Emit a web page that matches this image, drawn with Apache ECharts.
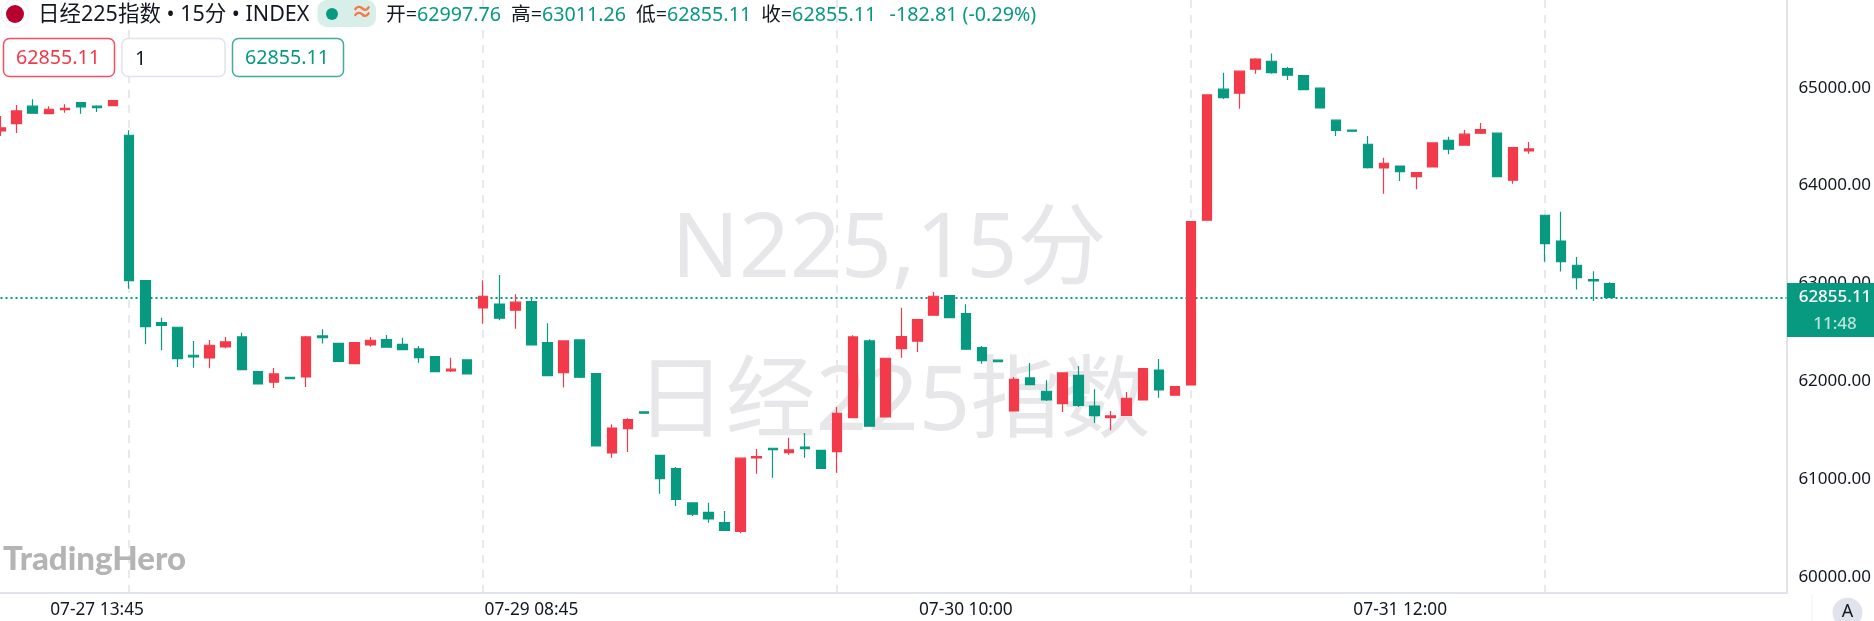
<!DOCTYPE html>
<html><head><meta charset="utf-8">
<style>html,body{margin:0;padding:0;background:#fff}#c{width:1874px;height:621px}</style>
<script src="https://cdn.jsdelivr.net/npm/echarts@6/dist/echarts.min.js"></script>
</head><body><div id="c"></div>
<script>
const opens=[64558,64633,64811,64735,64776,64848,64811,64817,64514,63028,62598,62551,62265,62237,62350,62452,62097,61989,62040,62043,62462,62387,62179,62370,62424,62377,62329,62250,62104,62217,62748,62789,62725,62813,62394,62087,62421,62077,61266,61514,61685,61242,61105,60755,60659,60553,60465,61215,61314,61269,61327,61293,61279,61627,62411,61634,62332,62408,62674,62874,62690,62342,62214,61695,62033,61897,61770,62060,61746,61627,61651,61808,62114,61856,61961,63645,64985,64944,65189,65271,65195,65124,64995,64668,64568,64422,64180,64200,64091,64190,64463,64412,64535,64535,64054,64354,63696,63433,63185,63038,62997.76];
const closes=[64589,64763,64739,64780,64790,64804,64796,64868,63028,62557,62571,62230,62247,62367,62401,62118,61971,62074,62026,62452,62445,62203,62394,62418,62347,62322,62240,62097,62122,62074,62868,62643,62807,62370,62056,62411,62040,61338,61521,61606,61672,61003,60792,60639,60591,60475,61212,61228,61300,61297,61310,61109,61672,62452,61539,62234,62455,62629,62868,62649,62326,62210,62199,62019,61964,61808,62084,61753,61647,61644,61825,62128,61910,61944,63631,64926,64899,65169,65294,65154,65128,64981,64793,64565,64555,64183,64228,64142,64132,64436,64371,64525,64572,64091,64387,64374,63406,63222,63058,63024,62855.11];
const lows=[64507,64538,64735,64735,64745,64735,64752,64817,62946,62377,62316,62145,62138,62132,62336,62118,61965,61930,62026,61941,62384,62203,62179,62353,62347,62322,62189,62094,62094,62074,62588,62623,62537,62370,62056,61934,62033,61338,61218,61276,61672,60850,60724,60622,60553,60475,60445,61054,61013,61248,61218,61109,61064,61627,61539,61634,62240,62299,62674,62649,62326,62179,62199,61695,61964,61797,61685,61736,61573,61498,61651,61801,61831,61856,61961,63645,64885,64786,65144,65144,65080,64981,64793,64507,64555,64173,63917,64047,63962,64190,64320,64412,64528,64091,64019,64326,63222,63120,62936,62820,62855.11];
const highs=[64712,64824,64882,64811,64831,64848,64821,64868,64565,63028,62649,62551,62411,62421,62452,62496,62097,62135,62040,62462,62531,62387,62394,62452,62472,62445,62360,62250,62240,62217,63032,63086,62888,62848,62592,62411,62421,62077,61559,61621,61685,61242,61123,60755,60758,60673,61212,61307,61320,61422,61470,61293,61736,62469,62428,62234,62751,62629,62912,62874,62786,62360,62214,62043,62186,62009,62084,62155,61917,61695,61890,62128,62227,61944,63631,64926,65154,65169,65302,65349,65213,65124,64995,64668,64568,64507,64285,64200,64132,64436,64500,64568,64640,64535,64387,64446,63696,63733,63270,63124,63011.26];
const xLabels=['07-27 13:45','07-29 08:45','07-30 10:00','07-31 12:00'];
const xLabelIndex=[6,33,60,87];
const xGridIndex=[8,30,52,74,96];
const yTicks=[60000,61000,62000,63000,64000,65000];
const lastPrice=62855.11, countdown='11:48';
const slots=112;
const categories=Array.from({length:slots},(_,i)=>String(i));
const ohlc=opens.map((o,i)=>[o,closes[i],lows[i],highs[i]]);
const RED='#f23a4b',GREEN='#089981',INK='#131722',LINE='#e0e3eb',MARK='#e7e7ea';
const CJK='"Noto Sans","Noto Sans CJK SC",sans-serif';
function txt(x,y,text,fill,size,extra){return Object.assign({type:'text',z:100,x,y,style:Object.assign({text,fill,font:size+'px '+CJK,textVerticalAlign:'middle',textBaseline:'middle'},extra||{})})}
function box(x,y,w,h,stroke){return {type:'rect',z:100,shape:{x,y,width:w,height:h,r:6},style:{fill:'#fff',stroke,lineWidth:1.5}}}
const chart=echarts.init(document.getElementById('c'),null,{renderer:'canvas'});
chart.setOption({animation:false,backgroundColor:'#fff',
 grid:{left:0.5,right:87.5,top:0,bottom:28,containLabel:false},
 xAxis:{type:'category',data:categories,boundaryGap:false,
  axisLine:{lineStyle:{color:LINE,width:2}},axisTick:{show:false},
  axisLabel:{interval:(i)=>xLabelIndex.includes(i),formatter:(v,i)=>{const k=xLabelIndex.indexOf(+v);return k>=0?xLabels[k]:''},color:INK,fontSize:17.3,fontFamily:CJK,margin:8,hideOverlap:false},
  splitLine:{show:true,interval:(i)=>xGridIndex.includes(i),lineStyle:{color:'#e8e9ef',width:2,type:[8,7]}}},
 yAxis:{type:'value',position:'right',min:59834,max:65897,scale:true,
  axisLine:{show:true,lineStyle:{color:LINE,width:2}},axisTick:{show:false},splitLine:{show:false},
  axisLabel:{customValues:yTicks,formatter:(v)=>v.toFixed(2),color:INK,fontSize:17,fontFamily:CJK,margin:12}},
 series:[{type:'candlestick',data:ohlc,barWidth:10,clip:true,z:3,
  itemStyle:{color:RED,color0:GREEN,borderColor:RED,borderColor0:GREEN,borderWidth:1.2},
  markLine:{silent:true,symbol:'none',label:{show:false},z:2,
   lineStyle:{color:GREEN,type:[2,3],width:2},data:[{yAxis:lastPrice}]}}],
 graphic:[
  {type:'text',z:1,x:889,y:252,style:{text:'N225,15分',fill:MARK,font:'89px '+CJK,textAlign:'center',textVerticalAlign:'middle',textBaseline:'middle'}},
  {type:'text',z:1,x:893,y:404,style:{text:'日经225指数',fill:MARK,font:'90px '+CJK,textAlign:'center',textVerticalAlign:'middle',textBaseline:'middle'}},
  {type:'text',z:1,x:3,y:559,style:{text:'TradingHero',fill:'#b4b4b4',font:'900 33px Lato,sans-serif',textVerticalAlign:'middle',textBaseline:'middle'}},
  {type:'circle',z:100,shape:{cx:15,cy:14,r:14},style:{fill:'#fff',stroke:'#f0f0f3',lineWidth:1}},
  {type:'circle',z:100,shape:{cx:15,cy:14,r:9},style:{fill:'#b8002e'}},
  txt(38,15,'日经225指数 • 15分 • INDEX',INK,21.5),
  {type:'rect',z:100,shape:{x:317.5,y:0,width:58.5,height:27,r:9},style:{fill:'#d8efe9'}},
  {type:'circle',z:100,shape:{cx:332,cy:14,r:6},style:{fill:GREEN}},
  txt(351,13,'≈','#f7784a',22,{font:'bold 22px '+CJK}),
  {type:'text',z:100,x:386,y:15,style:{rich:{k:{fill:INK,font:'19.7px '+CJK},v:{fill:GREEN,font:'19.7px '+CJK}},text:'{k|开=}{v|62997.76}   {k|高=}{v|63011.26}   {k|低=}{v|62855.11}   {k|收=}{v|62855.11}    {v|-182.81 (-0.29%)}',textVerticalAlign:'middle',textBaseline:'middle'}},
  box(3.5,38.5,111,38,'#f6505f'),
  txt(58,58,'62855.11',RED,19.7,{textAlign:'center'}),
  box(122,38.5,103,38,LINE),
  txt(135,59,'1',INK,19.7),
  box(232.5,38.5,111,38,'#40ad9b'),
  txt(287,58,'62855.11',GREEN,19.7,{textAlign:'center'}),
  {type:'rect',z:100,shape:{x:1787,y:283,width:87,height:54},style:{fill:GREEN}},
  txt(1835,297,'62855.11','#fff',17,{textAlign:'center',font:'500 17px '+CJK}),
  txt(1835,324,countdown,'#b9e4da',17,{textAlign:'center',font:'500 17px '+CJK}),
  {type:'line',z:100,shape:{x1:1812,y1:594,x2:1812,y2:621},style:{stroke:'#f0f1f5',lineWidth:1}},
  {type:'circle',z:100,shape:{cx:1847.5,cy:612.7,r:15},style:{fill:LINE}},
  txt(1847.5,612,'A',INK,18,{textAlign:'center'})
 ]});
</script></body></html>
